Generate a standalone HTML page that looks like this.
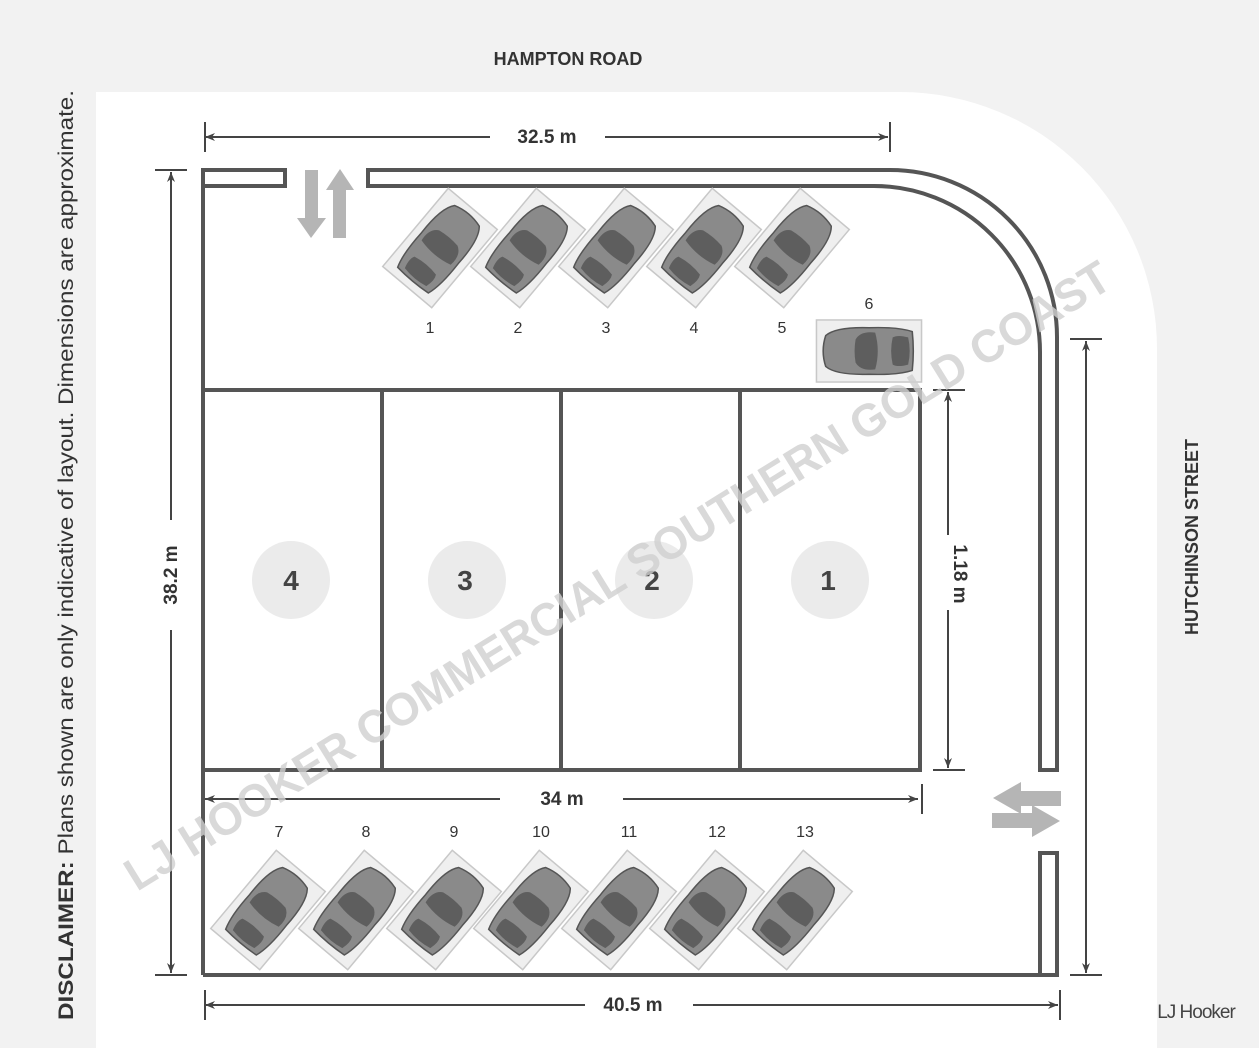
<!DOCTYPE html>
<html><head><style>
html,body{margin:0;padding:0;background:#f2f2f2;}
svg{display:block;font-family:"Liberation Sans",sans-serif;}
</style></head><body>
<svg width="1259" height="1048" viewBox="0 0 1259 1048" xmlns="http://www.w3.org/2000/svg">
<defs>
<g id="car">
<rect x="-51" y="-32" width="102" height="64" fill="#efefef" stroke="#c8c8c8" stroke-width="1.5"/>
<path d="M-42,-20 Q-44,0 -42,20 Q-28,25 0,24 Q32,25 42,16 Q47,0 42,-16 Q32,-25 0,-24 Q-28,-25 -42,-20Z" fill="#8a8a8a" stroke="#555" stroke-width="1.5"/>
<path d="M-6,-19 Q8,-21 13,-12 Q15,0 13,12 Q8,21 -6,19 Q-11,0 -6,-19Z" fill="#5e5e5e"/>
<path d="M-38,-14 Q-28,-17 -23,-14 Q-20,0 -23,14 Q-28,17 -38,14 Q-41,0 -38,-14Z" fill="#5e5e5e"/>
</g>
<marker id="ah" viewBox="0 0 10 10" refX="10" refY="5" markerWidth="10" markerHeight="10" orient="auto-start-reverse" markerUnits="userSpaceOnUse">
<path d="M0,1 L10,5 L0,9 L3,5Z" fill="#444"/></marker>
</defs>
<path d="M96,92 H900 A257,257 0 0 1 1157,349 V1048 H96Z" fill="#fff"/>
<text x="568" y="65" font-size="18" font-weight="bold" fill="#333" text-anchor="middle">HAMPTON ROAD</text>
<text transform="translate(1198,537) rotate(-90)" font-size="18" font-weight="bold" fill="#333" text-anchor="middle">HUTCHINSON STREET</text>
<text transform="translate(73,1020) rotate(-90)" font-size="21" fill="#333" textLength="930" lengthAdjust="spacingAndGlyphs"><tspan font-weight="bold">DISCLAIMER:</tspan> Plans shown are only indicative of layout.  Dimensions are approximate.</text>
<text x="1196" y="1018" font-size="19" fill="#444" text-anchor="middle" letter-spacing="-1">LJ Hooker</text>
<g fill="none" stroke="#555" stroke-width="4">
<path d="M203,975 V170 H285 V186 H203"/>
<path d="M368,186 V170 H890 A167,167 0 0 1 1057,337 V770 H1040 V352 A166,166 0 0 0 874,186 H368Z"/>
<path d="M1040,853 H1057 V975 H1040Z"/>
<path d="M203,975 H1040"/>
<rect x="203" y="390" width="717" height="380"/>
<path d="M382,390 V770 M561,390 V770 M740,390 V770"/>
</g>
<g fill="#ebebeb"><circle cx="291" cy="580" r="39"/><circle cx="467" cy="580" r="39"/><circle cx="654" cy="580" r="39"/><circle cx="830" cy="580" r="39"/></g>
<g font-size="28" font-weight="bold" fill="#444" text-anchor="middle"><text x="291" y="590">4</text><text x="465" y="590">3</text><text x="652" y="590">2</text><text x="828" y="590">1</text></g>
<g stroke="#444" stroke-width="2" fill="none">
<path d="M205,137 H490 M605,137 H888" marker-start="url(#ah)" marker-end="url(#ah)"/>
<path d="M205,122 V152 M890,122 V152"/>
<path d="M171,172 V520 M171,630 V973" marker-start="url(#ah)" marker-end="url(#ah)"/>
<path d="M155,170 H187 M155,975 H187"/>
<path d="M205,799 H500 M623,799 H918" marker-start="url(#ah)" marker-end="url(#ah)"/>
<path d="M922,784 V814"/>
<path d="M948,392 V535 M948,610 V768" marker-start="url(#ah)" marker-end="url(#ah)"/>
<path d="M933,390 H965 M933,770 H965"/>
<path d="M1086,341 V973" marker-start="url(#ah)" marker-end="url(#ah)"/>
<path d="M1070,339 H1102 M1070,975 H1102"/>
<path d="M205,1005 H585 M693,1005 H1058" marker-start="url(#ah)" marker-end="url(#ah)"/>
<path d="M205,990 V1020 M1060,990 V1020"/>
</g>
<g font-size="19" font-weight="bold" fill="#333" text-anchor="middle">
<text x="547" y="143">32.5 m</text>
<text transform="translate(177,575) rotate(-90)">38.2 m</text>
<text x="562" y="805">34 m</text>
<text transform="translate(954,574) rotate(90)">1.18 m</text>
<text x="633" y="1011">40.5 m</text>
</g>
<g fill="#b5b5b5">
<path d="M305,170 H318 V218 H326 L311,238 L297,218 H305Z"/>
<path d="M333,238 H346 V190 H354 L340,169 L326,190 H333Z"/>
<path d="M1061,791 V806 H1021 V814 L993,798 L1021,782 V791Z"/>
<path d="M992,828 V813 H1032 V805 L1060,821 L1032,837 V828Z"/>
</g>
<g>
<use href="#car" transform="translate(440,248) rotate(-50)"/>
<use href="#car" transform="translate(528,248) rotate(-50)"/>
<use href="#car" transform="translate(616,248) rotate(-50)"/>
<use href="#car" transform="translate(704,248) rotate(-50)"/>
<use href="#car" transform="translate(792,248) rotate(-50)"/>
<use href="#car" transform="translate(869,351) scale(1.03,0.97) rotate(180)"/>
<use href="#car" transform="translate(268,910) rotate(-50)"/>
<use href="#car" transform="translate(356,910) rotate(-50)"/>
<use href="#car" transform="translate(444,910) rotate(-50)"/>
<use href="#car" transform="translate(531,910) rotate(-50)"/>
<use href="#car" transform="translate(619,910) rotate(-50)"/>
<use href="#car" transform="translate(707,910) rotate(-50)"/>
<use href="#car" transform="translate(795,910) rotate(-50)"/>
</g>
<g font-size="16" fill="#333" text-anchor="middle">
<text x="430" y="333">1</text><text x="518" y="333">2</text><text x="606" y="333">3</text><text x="694" y="333">4</text><text x="782" y="333">5</text><text x="869" y="309">6</text>
<text x="279" y="837">7</text><text x="366" y="837">8</text><text x="454" y="837">9</text><text x="541" y="837">10</text><text x="629" y="837">11</text><text x="717" y="837">12</text><text x="805" y="837">13</text>
</g>
<text transform="translate(137,892) rotate(-31.8)" font-size="46" font-weight="bold" fill="#cfcfcf" fill-opacity="0.8" textLength="1150" lengthAdjust="spacingAndGlyphs">LJ HOOKER COMMERCIAL SOUTHERN GOLD COAST</text>
</svg>
</body></html>
